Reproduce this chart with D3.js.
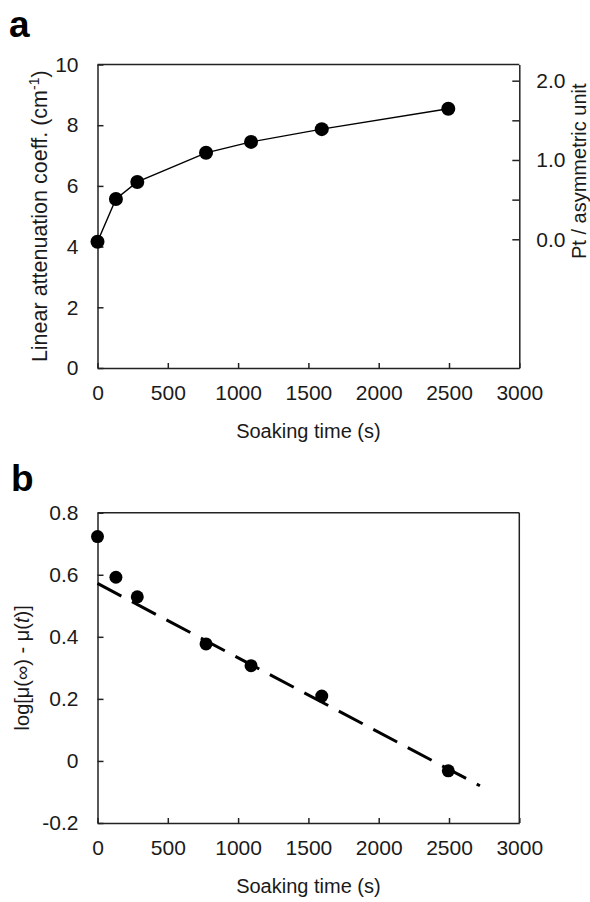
<!DOCTYPE html>
<html>
<head>
<meta charset="utf-8">
<script src="https://cdn.jsdelivr.net/npm/d3@7"></script>
<style>
  body { margin: 0; background: #fff; }
  text { font-family: "Liberation Sans", Arial, sans-serif; fill: #1a1a1a; }
</style>
</head>
<body>
<div id="chart"></div>
<script>
// soaking times (s), shared by both panels
var soakTime = [0, 131, 283, 772, 1092, 1595, 2495];
// panel a: linear attenuation coefficient (cm-1)
var attenuation = [4.16, 5.57, 6.13, 7.09, 7.45, 7.87, 8.54];
// panel b: log[mu(inf) - mu(t)]
var logDiff = [0.723, 0.592, 0.529, 0.377, 0.307, 0.209, -0.032];
// panel b: linear fit endpoints
var fitTime = [0, 2720];
var fitValue = [0.572, -0.08];

var xTicks = [0, 500, 1000, 1500, 2000, 2500, 3000];
var yTicksA = [0, 2, 4, 6, 8, 10];
var ptTicks = [0, 0.5, 1, 1.5, 2];
var ptLabels = [0, 1, 2];
var yTicksB = [-0.2, 0, 0.2, 0.4, 0.6, 0.8];

var W = 590, H = 902;
var left = 97.5, right = 519.3;

var svg = d3.select("#chart").append("svg")
    .attr("width", W)
    .attr("height", H);

var x = d3.scaleLinear().domain([0, 3000]).range([left, right]);

// plain numbers with a hyphen minus, like the original figure
function plain(d) { return d === 0 ? "0" : String(d).replace("\u2212", "-"); }
function oneDec(d) { return d.toFixed(1); }

// ---------- panel a ----------
var topA = 64.5, botA = 368;
var yA = d3.scaleLinear().domain([0, 10]).range([botA, topA]);
// right axis: Pt per asymmetric unit, 0 sits at mu ~ 4.24
var yPt = d3.scaleLinear().domain([-1.623, 2.204]).range([botA, topA]);

var gA = svg.append("g");

gA.append("g")
    .attr("transform", "translate(0," + botA + ")")
    .call(d3.axisBottom(x).tickValues(xTicks).tickSizeInner(-5).tickSizeOuter(0).tickPadding(17).tickFormat(plain));
gA.append("g")
    .attr("transform", "translate(" + left + ",0)")
    .call(d3.axisLeft(yA).tickValues(yTicksA).tickSizeInner(-6).tickSizeOuter(0).tickPadding(19).tickFormat(plain));
gA.append("g")
    .attr("transform", "translate(" + right + ",0)")
    .call(d3.axisRight(yPt).tickValues(ptTicks).tickSizeInner(-7).tickSizeOuter(0).tickPadding(17)
        .tickFormat(d => ptLabels.includes(d) ? oneDec(d) : ""));
// top frame
gA.append("line")
    .attr("x1", left).attr("x2", right)
    .attr("y1", topA).attr("y2", topA)
    .attr("class", "frame");

var lineA = d3.line()
    .x((d, i) => x(soakTime[i]))
    .y(d => yA(d));

gA.append("path")
    .datum(attenuation)
    .attr("d", lineA)
    .attr("fill", "none")
    .attr("stroke", "#000")
    .attr("stroke-width", 1.4);

gA.selectAll("circle")
    .data(attenuation)
    .enter()
    .append("circle")
    .attr("cx", (d, i) => x(soakTime[i]))
    .attr("cy", d => yA(d))
    .attr("r", 7)
    .attr("fill", "#000");

var titleA = gA.append("text")
    .attr("transform", "translate(47," + ((topA + botA) / 2) + ") rotate(-90)")
    .attr("text-anchor", "middle")
    .style("font-size", "21.5px");
titleA.append("tspan").text("Linear attenuation coeff. (cm");
titleA.append("tspan").attr("dy", -8).style("font-size", "14px").text("-1");
titleA.append("tspan").attr("dy", 8).text(")");

gA.append("text")
    .attr("transform", "translate(586,259) rotate(-90)")
    .attr("text-anchor", "start")
    .style("font-size", "20px")
    .text("Pt / asymmetric unit");

gA.append("text")
    .attr("x", (left + right) / 2)
    .attr("y", 438)
    .attr("text-anchor", "middle")
    .style("font-size", "20px")
    .text("Soaking time (s)");

gA.append("text")
    .attr("x", 9)
    .attr("y", 37)
    .style("font-size", "37px")
    .style("font-weight", "bold")
    .style("fill", "#000")
    .text("a");

// ---------- panel b ----------
var topB = 512.7, botB = 823;
var yB = d3.scaleLinear().domain([-0.2, 0.8]).range([botB, topB]);

var gB = svg.append("g");

gB.append("g")
    .attr("transform", "translate(0," + botB + ")")
    .call(d3.axisBottom(x).tickValues(xTicks).tickSizeInner(-5).tickSizeOuter(0).tickPadding(17).tickFormat(plain));
gB.append("g")
    .attr("transform", "translate(" + left + ",0)")
    .call(d3.axisLeft(yB).tickValues(yTicksB).tickSizeInner(-6).tickSizeOuter(0).tickPadding(19)
        .tickFormat(d => d === 0 ? "0" : oneDec(d)));
gB.append("line")
    .attr("x1", left).attr("x2", right)
    .attr("y1", topB).attr("y2", topB)
    .attr("class", "frame");
gB.append("line")
    .attr("x1", right).attr("x2", right)
    .attr("y1", topB).attr("y2", botB)
    .attr("class", "frame");

gB.append("path")
    .datum(fitValue)
    .attr("d", d3.line().x((d, i) => x(fitTime[i])).y(d => yB(d)))
    .attr("fill", "none")
    .attr("stroke", "#000")
    .attr("stroke-width", 3)
    .attr("stroke-dasharray", "27,12");

gB.selectAll("circle")
    .data(logDiff)
    .enter()
    .append("circle")
    .attr("cx", (d, i) => x(soakTime[i]))
    .attr("cy", d => yB(d))
    .attr("r", 6.5)
    .attr("fill", "#000");

var titleB = gB.append("text")
    .attr("transform", "translate(29," + ((topB + botB) / 2) + ") rotate(-90)")
    .attr("text-anchor", "middle")
    .style("font-size", "20px");
titleB.append("tspan").text("log[μ(∞) - μ(");
titleB.append("tspan").style("font-style", "italic").text("t");
titleB.append("tspan").text(")]");

gB.append("text")
    .attr("x", (left + right) / 2)
    .attr("y", 893)
    .attr("text-anchor", "middle")
    .style("font-size", "20px")
    .text("Soaking time (s)");

gB.append("text")
    .attr("x", 11)
    .attr("y", 491)
    .style("font-size", "37px")
    .style("font-weight", "bold")
    .style("fill", "#000")
    .text("b");

// shared axis styling
svg.selectAll(".domain, .tick line, .frame")
    .attr("stroke", "#222")
    .attr("stroke-width", 1.5);
svg.selectAll(".tick text")
    .style("font-size", "21px")
    .style("font-family", "'Liberation Sans', Arial, sans-serif")
    .attr("fill", "#1a1a1a");
</script>
</body>
</html>
